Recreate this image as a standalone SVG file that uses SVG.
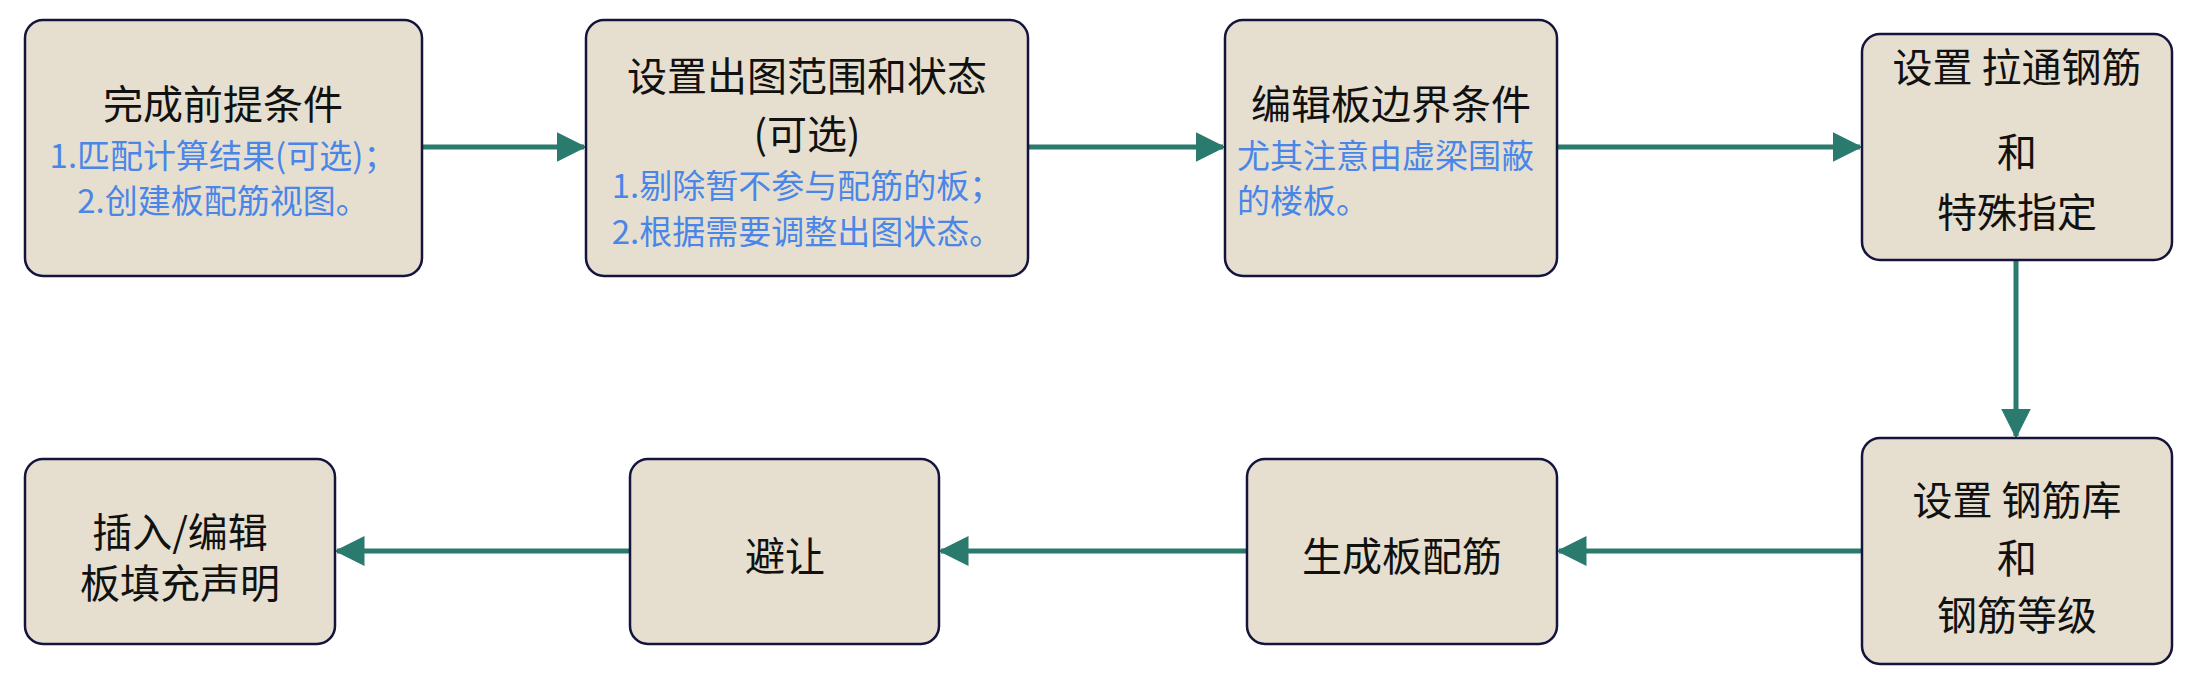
<svg xmlns="http://www.w3.org/2000/svg" width="2200" height="687" viewBox="0 0 2200 687">
<style>
.n{fill:#e6dfcf;stroke:#14143c;stroke-width:2.5}
.t{font-family:"Noto Sans CJK SC","Liberation Sans",sans-serif;font-size:40px;fill:#111;text-anchor:middle;dominant-baseline:central}
.b{font-family:"Noto Sans CJK SC","Liberation Sans",sans-serif;font-size:33px;fill:#4a86e8;text-anchor:middle;dominant-baseline:central}
.l{text-anchor:start}
.c{stroke:#2a7a6e;stroke-width:5;fill:none;marker-end:url(#a)}
</style>
<defs><marker id="a" markerWidth="6" markerHeight="6" refX="5.5" refY="3" orient="auto" markerUnits="strokeWidth"><path d="M0,0 L6,3 L0,6 z" fill="#2a7a6e"/></marker></defs>
<rect width="2200" height="687" fill="#fff"/>
<g id="connectors">
<line class="c" x1="422" y1="147" x2="584" y2="147"/>
<line class="c" x1="1028" y1="147" x2="1223" y2="147"/>
<line class="c" x1="1557" y1="147" x2="1860" y2="147"/>
<line class="c" x1="2016" y1="260" x2="2016" y2="436"/>
<line class="c" x1="1862" y1="551" x2="1559" y2="551"/>
<line class="c" x1="1247" y1="551" x2="941" y2="551"/>
<line class="c" x1="630" y1="551" x2="337" y2="551"/>
</g>
<g id="n1"><rect class="n" x="25" y="20" width="397" height="256" rx="18"/>
<text class="t" x="223" y="102">完成前提条件</text><text class="b" x="223" y="154">1.匹配计算结果(可选)；</text><text class="b" x="223" y="199">2.创建板配筋视图。</text></g>
<g id="n2"><rect class="n" x="586" y="20" width="442" height="256" rx="18"/>
<text class="t" x="807" y="74">设置出图范围和状态</text><text class="t" x="807" y="132">(可选)</text><text class="b" x="807" y="184">1.剔除暂不参与配筋的板；</text><text class="b" x="807" y="230">2.根据需要调整出图状态。</text></g>
<g id="n3"><rect class="n" x="1225" y="20" width="332" height="256" rx="18"/>
<text class="t" x="1391" y="102">编辑板边界条件</text><text class="b l" x="1237" y="154">尤其注意由虚梁围蔽</text><text class="b l" x="1237" y="199">的楼板。</text></g>
<g id="n4"><rect class="n" x="1862" y="34" width="310" height="226" rx="18"/>
<text class="t" x="2017" y="65">设置 拉通钢筋</text><text class="t" x="2017" y="150">和</text><text class="t" x="2017" y="210">特殊指定</text></g>
<g id="n5"><rect class="n" x="1862" y="438" width="310" height="226" rx="18"/>
<text class="t" x="2017" y="498">设置 钢筋库</text><text class="t" x="2017" y="556">和</text><text class="t" x="2017" y="613">钢筋等级</text></g>
<g id="n6"><rect class="n" x="1247" y="459" width="310" height="185" rx="18"/>
<text class="t" x="1402" y="554">生成板配筋</text></g>
<g id="n7"><rect class="n" x="630" y="459" width="309" height="185" rx="18"/>
<text class="t" x="785" y="554">避让</text></g>
<g id="n8"><rect class="n" x="25" y="459" width="310" height="185" rx="18"/>
<text class="t" x="180" y="530">插入/编辑</text><text class="t" x="180" y="581">板填充声明</text></g>
</svg>
